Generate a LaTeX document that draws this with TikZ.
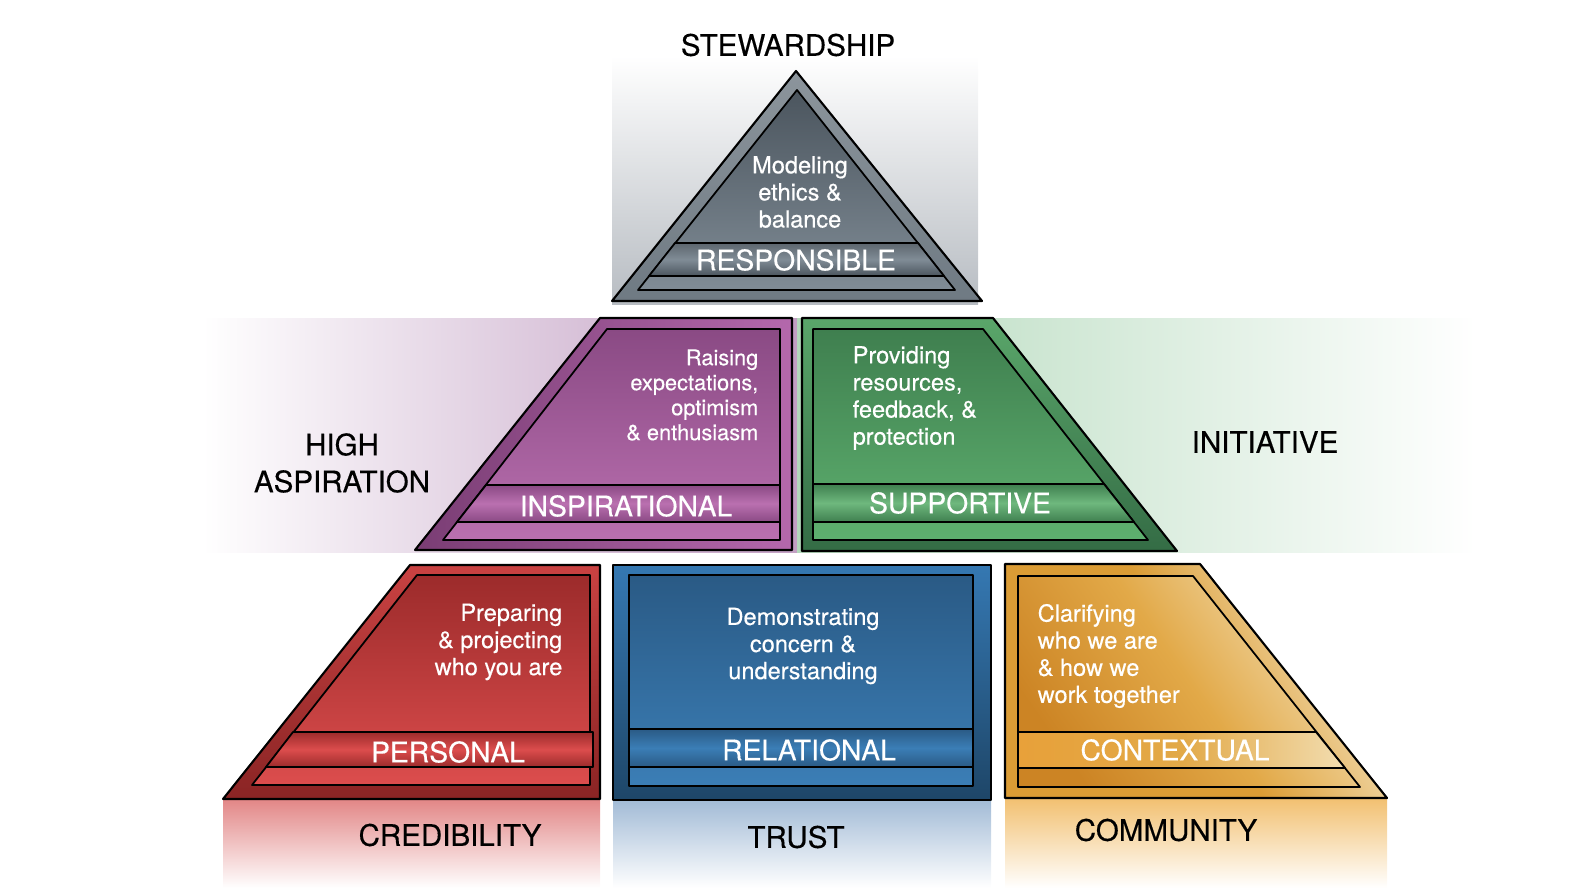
\documentclass[tikz,border=0pt]{standalone}
\usepackage{fontspec}
\setmainfont{TeX Gyre Heros}[FakeBold=0.35]
\definecolor{grayback}{HTML}{B7BCC2}
\definecolor{grayrim}{HTML}{6F7A83}
\definecolor{grayin}{HTML}{4B555E}
\definecolor{grayinb}{HTML}{808C96}
\definecolor{lilac}{HTML}{C29FC3}
\definecolor{purplerim}{HTML}{7A3D74}
\definecolor{purplerimb}{HTML}{B468AC}
\definecolor{purplein}{HTML}{8A4A84}
\definecolor{purpleinb}{HTML}{BA70B0}
\definecolor{mint}{HTML}{B3D9BB}
\definecolor{greenrim}{HTML}{5AA66A}
\definecolor{greenrimb}{HTML}{346C45}
\definecolor{greenin}{HTML}{3F7F4F}
\definecolor{greeninb}{HTML}{5EB06F}
\definecolor{redrim}{HTML}{C94242}
\definecolor{redrimb}{HTML}{8A2424}
\definecolor{redin}{HTML}{9C2B2B}
\definecolor{redinb}{HTML}{DC4D4D}
\definecolor{redfade}{HTML}{E28686}
\definecolor{bluerim}{HTML}{3578B2}
\definecolor{bluerimb}{HTML}{1E4668}
\definecolor{bluein}{HTML}{2A5A85}
\definecolor{blueinb}{HTML}{3B7EB6}
\definecolor{bluefade}{HTML}{A2BBD6}
\definecolor{orangerim}{HTML}{DB9C35}
\definecolor{orangerimb}{HTML}{F6E8C6}
\definecolor{orangein}{HTML}{CC8424}
\definecolor{orangemid}{HTML}{E2A948}
\definecolor{orangeinb}{HTML}{F2DDB0}
\definecolor{orangefade}{HTML}{F2C070}
\begin{document}
\begin{tikzpicture}[x=0.01cm,y=-0.01cm,
  rim/.style={draw=black,line width=0.6pt,line join=round},
  inner/.style={draw=black,line width=0.5pt,line join=round},
  bigtxt/.style={font=\fontsize{8.4}{10.5}\selectfont,inner sep=0pt,align=center},
  bandtxt/.style={font=\fontsize{8.05}{9}\selectfont,text=white,inner sep=0pt},
  bodytxt/.style={font=\fontsize{6.7}{7.7}\selectfont,text=white,inner sep=0pt}]
\useasboundingbox (0,0) rectangle (1585,888);
%Fondos
\shade[top color=white,bottom color=grayback] (612,56) rectangle (978,304);
\shade[left color=white,right color=lilac] (202,318) rectangle (797,552);
\shade[left color=mint,right color=white] (797,318) rectangle (1476,552);
\shade[top color=redfade,bottom color=white] (223,799) rectangle (600,888);
\shade[top color=bluefade,bottom color=white] (613,800) rectangle (991,888);
\shade[top color=orangefade,bottom color=white] (1005,798) rectangle (1387,888);
%Responsible
\shade[rim,top color=grayrim!80,bottom color=grayrim] (796,71) -- (982,301) -- (612,301) -- cycle;
\shade[inner,top color=grayin,bottom color=grayinb] (797,90) -- (955,290) -- (638,290) -- cycle;
\shade[inner,top color=grayin!90,bottom color=grayin,middle color=grayinb] (675,243) -- (918,243) -- (944,276) -- (649,276) -- cycle;
%Inspirational
\shade[rim,left color=purplerim,right color=purplerimb] (600,318) -- (792,318) -- (792,550) -- (415,550) -- cycle;
\shade[inner,top color=purplein,bottom color=purpleinb] (607,329) -- (780,329) -- (780,540) -- (443,540) -- cycle;
\shade[inner,top color=purplein,bottom color=purplein,middle color=purpleinb] (486,485) -- (780,485) -- (780,522) -- (457,522) -- cycle;
%Supportive
\shade[rim,top color=greenrim,bottom color=greenrimb] (802,318) -- (993,318) -- (1177,551) -- (802,551) -- cycle;
\shade[inner,top color=greenin,bottom color=greeninb] (813,329) -- (983,329) -- (1148,540) -- (813,540) -- cycle;
\shade[inner,top color=greenin,bottom color=greenin,middle color=greeninb!90!white] (813,484) -- (1104,484) -- (1134,522) -- (813,522) -- cycle;
%Personal
\shade[rim,top color=redrim,bottom color=redrimb] (410,565) -- (600,565) -- (600,799) -- (223,799) -- cycle;
\shade[inner,top color=redin,bottom color=redinb] (417,575) -- (590,575) -- (590,785) -- (252,785) -- cycle;
\shade[inner,top color=redin,bottom color=redin,middle color=redinb] (293,732) -- (593,732) -- (593,767) -- (266,767) -- cycle;
%Relational
\shade[rim,top color=bluerim,bottom color=bluerimb] (613,565) rectangle (991,800);
\shade[inner,top color=bluein,bottom color=blueinb] (629,575) rectangle (973,786);
\shade[inner,top color=bluein,bottom color=bluein,middle color=blueinb] (629,729) rectangle (973,767);
%Contextual
\shade[rim,left color=orangerim,right color=orangerimb,middle color=orangerim,shading angle=120] (1005,564) -- (1200,564) -- (1387,798) -- (1005,798) -- cycle;
\shade[inner,left color=orangein,right color=orangeinb,middle color=orangemid,shading angle=125] (1018,576) -- (1193,576) -- (1360,787) -- (1018,787) -- cycle;
\shade[inner,left color=orangemid!80!orange,right color=orangeinb,middle color=orangemid] (1018,732) -- (1316,732) -- (1345,768) -- (1018,768) -- cycle;
%Textos
\node[bigtxt] (stew) at (788,45) {STEWARDSHIP};
\node[bigtxt] (asp) at (342,463) {HIGH\\ASPIRATION};
\node[bigtxt] (init) at (1265,442) {INITIATIVE};
\node[bigtxt] (cred) at (450,835) {CREDIBILITY};
\node[bigtxt] (trust) at (796,837) {TRUST};
\node[bigtxt] (comm) at (1166,830) {COMMUNITY};
\node[bandtxt] (resp) at (796,260) {RESPONSIBLE};
\node[bandtxt] (insp) at (626,506) {INSPIRATIONAL};
\node[bandtxt] (supp) at (960,503) {SUPPORTIVE};
\node[bandtxt] (pers) at (448,752) {PERSONAL};
\node[bandtxt] (rela) at (809,750) {RELATIONAL};
\node[bandtxt] (cont) at (1175,750) {CONTEXTUAL};
\node[bodytxt,align=center] (ethics) at (800,192) {Modeling\\ethics \&\\balance};
\node[bodytxt,align=right,anchor=east,font=\fontsize{6.2}{7.1}\selectfont] (raise) at (759,395) {Raising\\expectations,\\optimism\\\& enthusiasm};
\node[bodytxt,align=left,anchor=west] (provide) at (852,398) {Providing\\resources,\\feedback, \&\\protection};
\node[bodytxt,align=right,anchor=east] (prep) at (563,642) {Preparing\\\& projecting\\who you are};
\node[bodytxt,align=center] (demo) at (803,646) {Demonstrating\\concern \&\\understanding};
\node[bodytxt,align=left,anchor=west] (clar) at (1037,656) {Clarifying\\who we are\\\& how we\\work together};
\end{tikzpicture}
\end{document}
